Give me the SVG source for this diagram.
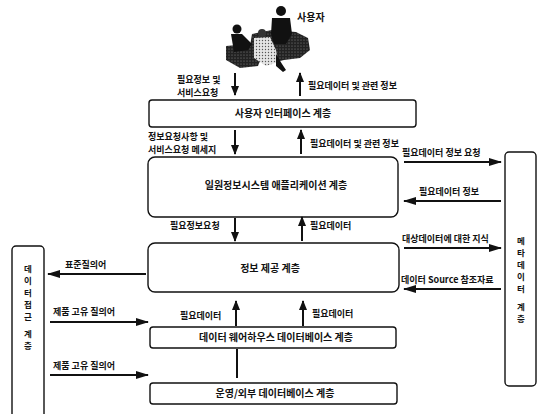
<svg xmlns="http://www.w3.org/2000/svg" width="546" height="414" viewBox="0 0 546 414">
  <style>
    .box { fill: #fff; stroke: #111; stroke-width: 1.4; }
    .t { font-family: "Noto Sans CJK KR", "Noto Sans", sans-serif; font-weight: bold; font-size: 9px; fill: #111; }
    .bt { font-size: 10px; text-anchor: middle; }
    .v { text-anchor: middle; font-size: 8.5px; }
    .arr { stroke: #111; stroke-width: 2; fill: none; }
    .ah { marker-end: url(#head); }
    .av { marker-end: url(#vhead); }
  </style>
  <defs>
    <marker id="head" markerUnits="userSpaceOnUse" markerWidth="13" markerHeight="8" refX="12" refY="4" orient="auto">
      <path d="M0,0 L13,4 L0,8 z" fill="#111"/>
    </marker>
    <marker id="vhead" markerUnits="userSpaceOnUse" markerWidth="10" markerHeight="8" refX="9" refY="4" orient="auto">
      <path d="M0,0 L10,4 L0,8 z" fill="#111"/>
    </marker>
    <pattern id="dark" width="3" height="3" patternUnits="userSpaceOnUse">
      <rect width="3" height="3" fill="#222"/>
      <circle cx="1" cy="1" r="0.6" fill="#888"/>
    </pattern>
    <pattern id="light" width="3" height="3" patternUnits="userSpaceOnUse">
      <rect width="3" height="3" fill="#e4e4e4"/>
      <circle cx="1.5" cy="1.5" r="0.7" fill="#555"/>
    </pattern>
  </defs>
  <rect width="546" height="414" fill="#fff"/>

  <!-- users at the desk -->
  <g id="users">
    <!-- desk and monitor block -->
    <path d="M252,34 L272,30 L296,32 L308,38 L310,50 L300,58 L284,60 L268,64 L256,58 L250,46 Z" fill="url(#dark)"/>
    <!-- left chair / table -->
    <path d="M226,46 L248,44 L262,56 L258,66 L240,68 L226,60 Z" fill="url(#dark)"/>
    <!-- standing person -->
    <circle cx="281" cy="11" r="5" fill="#111"/>
    <path d="M272,18 L290,18 L292,34 L286,44 L274,44 L271,34 Z" fill="#111"/>
    <!-- seated person, left -->
    <circle cx="237" cy="29" r="4.5" fill="#111"/>
    <path d="M231,34 L242,34 L252,44 L248,50 L234,52 Z" fill="#111"/>
    <!-- seated person, middle -->
    <circle cx="262" cy="33" r="4" fill="#333"/>
    <path d="M254,38 L270,37 L276,50 L278,62 L266,66 L254,58 Z" fill="url(#light)"/>
    <path d="M276,54 L282,64 L286,70 L283,72 L276,66 Z" fill="#111"/>
    <text class="t" x="297" y="21" style="font-size:10px">사용자</text>
  </g>

  <!-- layer boxes -->
  <g id="ui-layer">
    <rect class="box" x="149" y="100" width="267" height="27" rx="3"/>
    <text class="t bt" x="283" y="117">사용자 인터페이스 계층</text>
  </g>
  <g id="app-layer">
    <rect class="box" x="148" y="157" width="250" height="60" rx="7"/>
    <text class="t bt" x="276" y="189">일원정보시스템 애플리케이션 계층</text>
  </g>
  <g id="info-layer">
    <rect class="box" x="148" y="243" width="251" height="49" rx="7"/>
    <text class="t bt" x="270" y="272">정보 제공 계층</text>
  </g>
  <g id="dw-layer">
    <rect class="box" x="150" y="327" width="246" height="21" rx="3"/>
    <text class="t bt" x="276" y="341">데이터 웨어하우스 데이터베이스 계층</text>
  </g>
  <g id="ops-layer">
    <rect class="box" x="150" y="383" width="247" height="21" rx="3"/>
    <text class="t bt" x="275" y="397">운영/외부 데이터베이스 계층</text>
  </g>
  <g id="access-layer">
    <rect class="box" x="12" y="246" width="32" height="172" rx="4"/>
    <text class="t v" x="28" y="272">데</text>
    <text class="t v" x="28" y="284">이</text>
    <text class="t v" x="28" y="296">터</text>
    <text class="t v" x="28" y="308">접</text>
    <text class="t v" x="28" y="320">근</text>
    <text class="t v" x="28" y="337">계</text>
    <text class="t v" x="28" y="349">층</text>
  </g>
  <g id="meta-layer">
    <rect class="box" x="505" y="152" width="31" height="234" rx="4"/>
    <text class="t v" x="521" y="244">메</text>
    <text class="t v" x="521" y="256">타</text>
    <text class="t v" x="521" y="268">데</text>
    <text class="t v" x="521" y="280">이</text>
    <text class="t v" x="521" y="292">터</text>
    <text class="t v" x="521" y="310">계</text>
    <text class="t v" x="521" y="322">층</text>
  </g>

  <!-- connectors -->
  <g id="connectors">
    <line class="arr av" x1="235" y1="73" x2="235" y2="95"/>
    <line class="arr av" x1="300" y1="96" x2="300" y2="73"/>
    <line class="arr av" x1="235" y1="130" x2="235" y2="154"/>
    <line class="arr av" x1="301" y1="154" x2="301" y2="130"/>
    <line class="arr ah" x1="404" y1="162" x2="501" y2="162"/>
    <line class="arr ah" x1="501" y1="201" x2="404" y2="201"/>
    <line class="arr av" x1="235" y1="218" x2="235" y2="241"/>
    <line class="arr av" x1="302" y1="241" x2="302" y2="217"/>
    <line class="arr ah" x1="146" y1="274" x2="48" y2="274"/>
    <line class="arr ah" x1="404" y1="248" x2="501" y2="248"/>
    <line class="arr ah" x1="501" y1="289" x2="404" y2="289"/>
    <line class="arr av" x1="236" y1="326" x2="236" y2="301"/>
    <line class="arr av" x1="303" y1="326" x2="303" y2="301"/>
    <line class="arr ah" x1="50" y1="322" x2="148" y2="322"/>
    <line class="arr" x1="237" y1="349" x2="237" y2="378"/>
    <line class="arr ah" x1="50" y1="375" x2="148" y2="375"/>
  </g>

  <!-- connector labels -->
  <g id="labels" class="t">
    <text x="177" y="83">필요정보 및</text>
    <text x="177" y="96">서비스요청</text>
    <text x="308" y="89">필요데이터 및 관련 정보</text>
    <text x="148" y="140">정보요청사항 및</text>
    <text x="148" y="153">서비스요청 메세지</text>
    <text x="310" y="147">필요데이터 및 관련 정보</text>
    <text x="402" y="156">필요데이터 정보 요청</text>
    <text x="419" y="195">필요데이터 정보</text>
    <text x="170" y="229">필요정보요청</text>
    <text x="310" y="229">필요데이터</text>
    <text x="65" y="268">표준질의어</text>
    <text x="402" y="242">대상데이터에 대한 지식</text>
    <text x="401" y="283">데이터 Source 참조자료</text>
    <text x="180" y="319">필요데이터</text>
    <text x="312" y="317">필요데이터</text>
    <text x="53" y="315">제품 고유 질의어</text>
    <text x="53" y="369">제품 고유 질의어</text>
  </g>
</svg>
